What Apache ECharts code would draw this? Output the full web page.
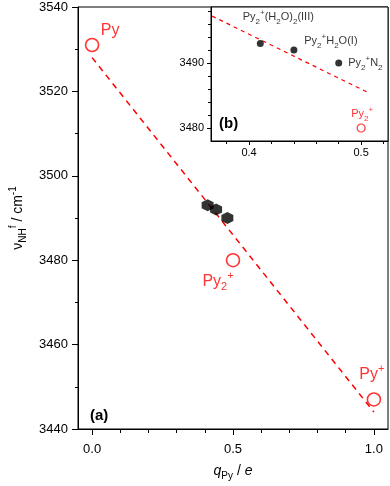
<!DOCTYPE html>
<html>
<head>
<meta charset="utf-8">
<script src="https://cdn.jsdelivr.net/npm/echarts@6/dist/echarts.min.js"></script>
<style>
  html, body { margin: 0; padding: 0; background: #ffffff; }
  #chart { width: 390px; height: 486px; }
</style>
</head>
<body>
<div id="chart"></div>
<script>
// main panel (a)
var mainXTicks = [0, 0.5, 1.0];
var mainXMinor = [0.1, 0.2, 0.3, 0.4, 0.6, 0.7, 0.8, 0.9];
var pyLabels = ["{n|Py}", "{n|Py}{sub|2}{sup|+}", "{n|Py}{sup|+}"];
var pyCharge = [0, 0.5, 1.0];
var pyFreq = [3531, 3480, 3447];
var complexCharge = [0.41, 0.44, 0.48];
var complexFreq = [3493, 3492, 3490];
var fitLine = [[0, 3528], [1.0, 3444]];

// inset (b)
var insetXTicks = [0.4, 0.5];
var insetXMinor = [0.38, 0.42, 0.44, 0.46, 0.48, 0.52];
var insetYTicks = [3480, 3490];
var insetYMinor = [3482, 3484, 3486, 3488, 3492, 3494, 3496, 3498];
var complexLabels = [
  "{n|Py}{sub|2}{sup|+}{n|(H}{sub|2}{n|O)}{sub|2}{n|(III)}",
  "{n|Py}{sub|2}{sup|+}{n|H}{sub|2}{n|O(I)}",
  "{n|Py}{sub|2}{sup|+}{n|N}{sub|2}"
];
var insetFit = [[0.367, 3497.2], [0.508, 3485.3]];

var RED = "#ff0000";
var FONT = "Liberation Sans, Arial, sans-serif";
var HEX = "path://M0,-1 L0.866,-0.5 L0.866,0.5 L0,1 L-0.866,0.5 L-0.866,-0.5 Z";

function richSet(size, subSize, color) {
  return {
    n: { fontSize: size, lineHeight: size + 6, color: color, fontFamily: FONT, verticalAlign: "middle" },
    i: { fontSize: size, lineHeight: size + 6, color: color, fontFamily: FONT, fontStyle: "italic", verticalAlign: "middle" },
    sub: { fontSize: subSize, lineHeight: subSize, color: color, fontFamily: FONT, verticalAlign: "bottom" },
    sup: { fontSize: subSize, lineHeight: subSize, color: color, fontFamily: FONT, verticalAlign: "top" }
  };
}

function plain(v) { return String(v); }

var mainOffsets = [[18, -14], [-15, 21], [-2, -25]];
var insetOffsets = [[18, -26], [37, -9], [26, 0]];

var chart = echarts.init(document.getElementById("chart"));

var option = {
  animation: false,
  grid: [
    { left: 78, top: 7, right: 2, bottom: 52, show: true, borderColor: "#000", borderWidth: 1 },
    { left: 211, top: 7, right: 2, height: 134, show: true, borderColor: "#000", borderWidth: 1, backgroundColor: "#ffffff" }
  ],
  xAxis: [
    {
      type: "value", gridIndex: 0, position: "bottom", min: -0.05, max: 1.05,
      axisLine: { onZero: false, lineStyle: { color: "#000" } },
      axisTick: { customValues: mainXTicks, length: 6, lineStyle: { color: "#000" } },
      axisLabel: { customValues: mainXTicks, color: "#000", fontSize: 13, fontFamily: FONT, margin: 14,
        formatter: function (v) { return v.toFixed(1); } },
      splitLine: { show: false },
      name: "{i|q}{sub|Py}{n| / }{i|e}",
      nameLocation: "middle", nameGap: 32,
      nameTextStyle: { rich: richSet(14, 10, "#000") }
    },
    {
      type: "value", gridIndex: 0, position: "bottom", min: -0.05, max: 1.05,
      axisLine: { show: false, onZero: false },
      axisTick: { customValues: mainXMinor, length: 4, lineStyle: { color: "#000" } },
      axisLabel: { show: false },
      splitLine: { show: false }
    },
    {
      type: "value", gridIndex: 1, position: "bottom", min: 0.366, max: 0.524,
      axisLine: { onZero: false, lineStyle: { color: "#000" } },
      axisTick: { customValues: insetXTicks, length: 4, lineStyle: { color: "#000" } },
      axisLabel: { customValues: insetXTicks, color: "#000", fontSize: 11, fontFamily: FONT, margin: 6,
        formatter: function (v) { return v.toFixed(1); } },
      splitLine: { show: false }
    },
    {
      type: "value", gridIndex: 1, position: "bottom", min: 0.366, max: 0.524,
      axisLine: { show: false, onZero: false },
      axisTick: { customValues: insetXMinor, length: 3, lineStyle: { color: "#000" } },
      axisLabel: { show: false },
      splitLine: { show: false }
    }
  ],
  yAxis: [
    {
      type: "value", gridIndex: 0, position: "left", min: 3440, max: 3540, interval: 20,
      axisLine: { show: true, onZero: false, lineStyle: { color: "#000" } },
      axisTick: { show: true, length: 6, lineStyle: { color: "#000" } },
      minorTick: { show: true, splitNumber: 2, length: 3, lineStyle: { color: "#000" } },
      axisLabel: { color: "#000", fontSize: 13, fontFamily: FONT, margin: 10, formatter: plain },
      splitLine: { show: false },
      name: "{n|ν}{sub|NH}{sup|f}{n| / cm}{sup|-1}",
      nameLocation: "middle", nameRotate: 90, nameGap: 47,
      nameTextStyle: { rich: richSet(14, 10, "#000") }
    },
    {
      type: "value", gridIndex: 1, position: "left", min: 3478, max: 3498.6,
      axisLine: { show: true, onZero: false, lineStyle: { color: "#000" } },
      axisTick: { show: true, customValues: insetYTicks, length: 4, lineStyle: { color: "#000" } },
      axisLabel: { customValues: insetYTicks, color: "#000", fontSize: 11, fontFamily: FONT, margin: 7, formatter: plain },
      splitLine: { show: false }
    },
    {
      type: "value", gridIndex: 1, position: "left", min: 3478, max: 3498.6,
      axisLine: { show: false, onZero: false },
      axisTick: { show: true, customValues: insetYMinor, length: 3, lineStyle: { color: "#000" } },
      axisLabel: { show: false },
      splitLine: { show: false }
    }
  ],
  series: [
    {
      type: "line", xAxisIndex: 0, yAxisIndex: 0, data: fitLine, symbol: "none",
      lineStyle: { color: RED, width: 1.5, type: [6, 5] }, z: 2
    },
    {
      type: "scatter", xAxisIndex: 0, yAxisIndex: 0, symbol: HEX, symbolSize: 12,
      itemStyle: { color: "#000" },
      data: complexCharge.map(function (q, k) { return [q, complexFreq[k]]; }), z: 3
    },
    {
      type: "scatter", xAxisIndex: 0, yAxisIndex: 0, symbol: "circle", symbolSize: 13,
      itemStyle: { color: "#fff", borderColor: RED, borderWidth: 1.6 },
      data: pyCharge.map(function (q, k) {
        return {
          value: [q, pyFreq[k]],
          label: { show: true, position: "inside", offset: mainOffsets[k], formatter: pyLabels[k], rich: richSet(16, 11, RED) }
        };
      }), z: 4
    },
    {
      type: "line", xAxisIndex: 2, yAxisIndex: 1, data: insetFit, symbol: "none",
      lineStyle: { color: RED, width: 1.2, type: [4, 4] }, z: 5
    },
    {
      type: "scatter", xAxisIndex: 2, yAxisIndex: 1, symbol: "circle", symbolSize: 7,
      itemStyle: { color: "#000" },
      data: complexCharge.map(function (q, k) {
        var lab = { show: true, formatter: complexLabels[k], rich: richSet(11, 8, "#000") };
        if (k === 2) { lab.position = "right"; lab.distance = 6; }
        else { lab.position = "inside"; lab.offset = insetOffsets[k]; }
        return { value: [q, complexFreq[k]], label: lab };
      }), z: 6
    },
    {
      type: "scatter", xAxisIndex: 2, yAxisIndex: 1, symbol: "circle", symbolSize: 8,
      itemStyle: { color: "#fff", borderColor: RED, borderWidth: 1.2 },
      data: [{
        value: [pyCharge[1], pyFreq[1]],
        label: { show: true, position: "inside", offset: [1, -14], formatter: pyLabels[1], rich: richSet(11, 8, RED) }
      }], z: 6
    }
  ],
  graphic: [
    { type: "text", left: 90, top: 408, style: { text: "(a)", font: "bold 15px Liberation Sans, Arial, sans-serif", fill: "#000" } },
    { type: "text", left: 219, top: 116, style: { text: "(b)", font: "bold 15px Liberation Sans, Arial, sans-serif", fill: "#000" } }
  ]
};

chart.setOption(option);
</script>
</body>
</html>
